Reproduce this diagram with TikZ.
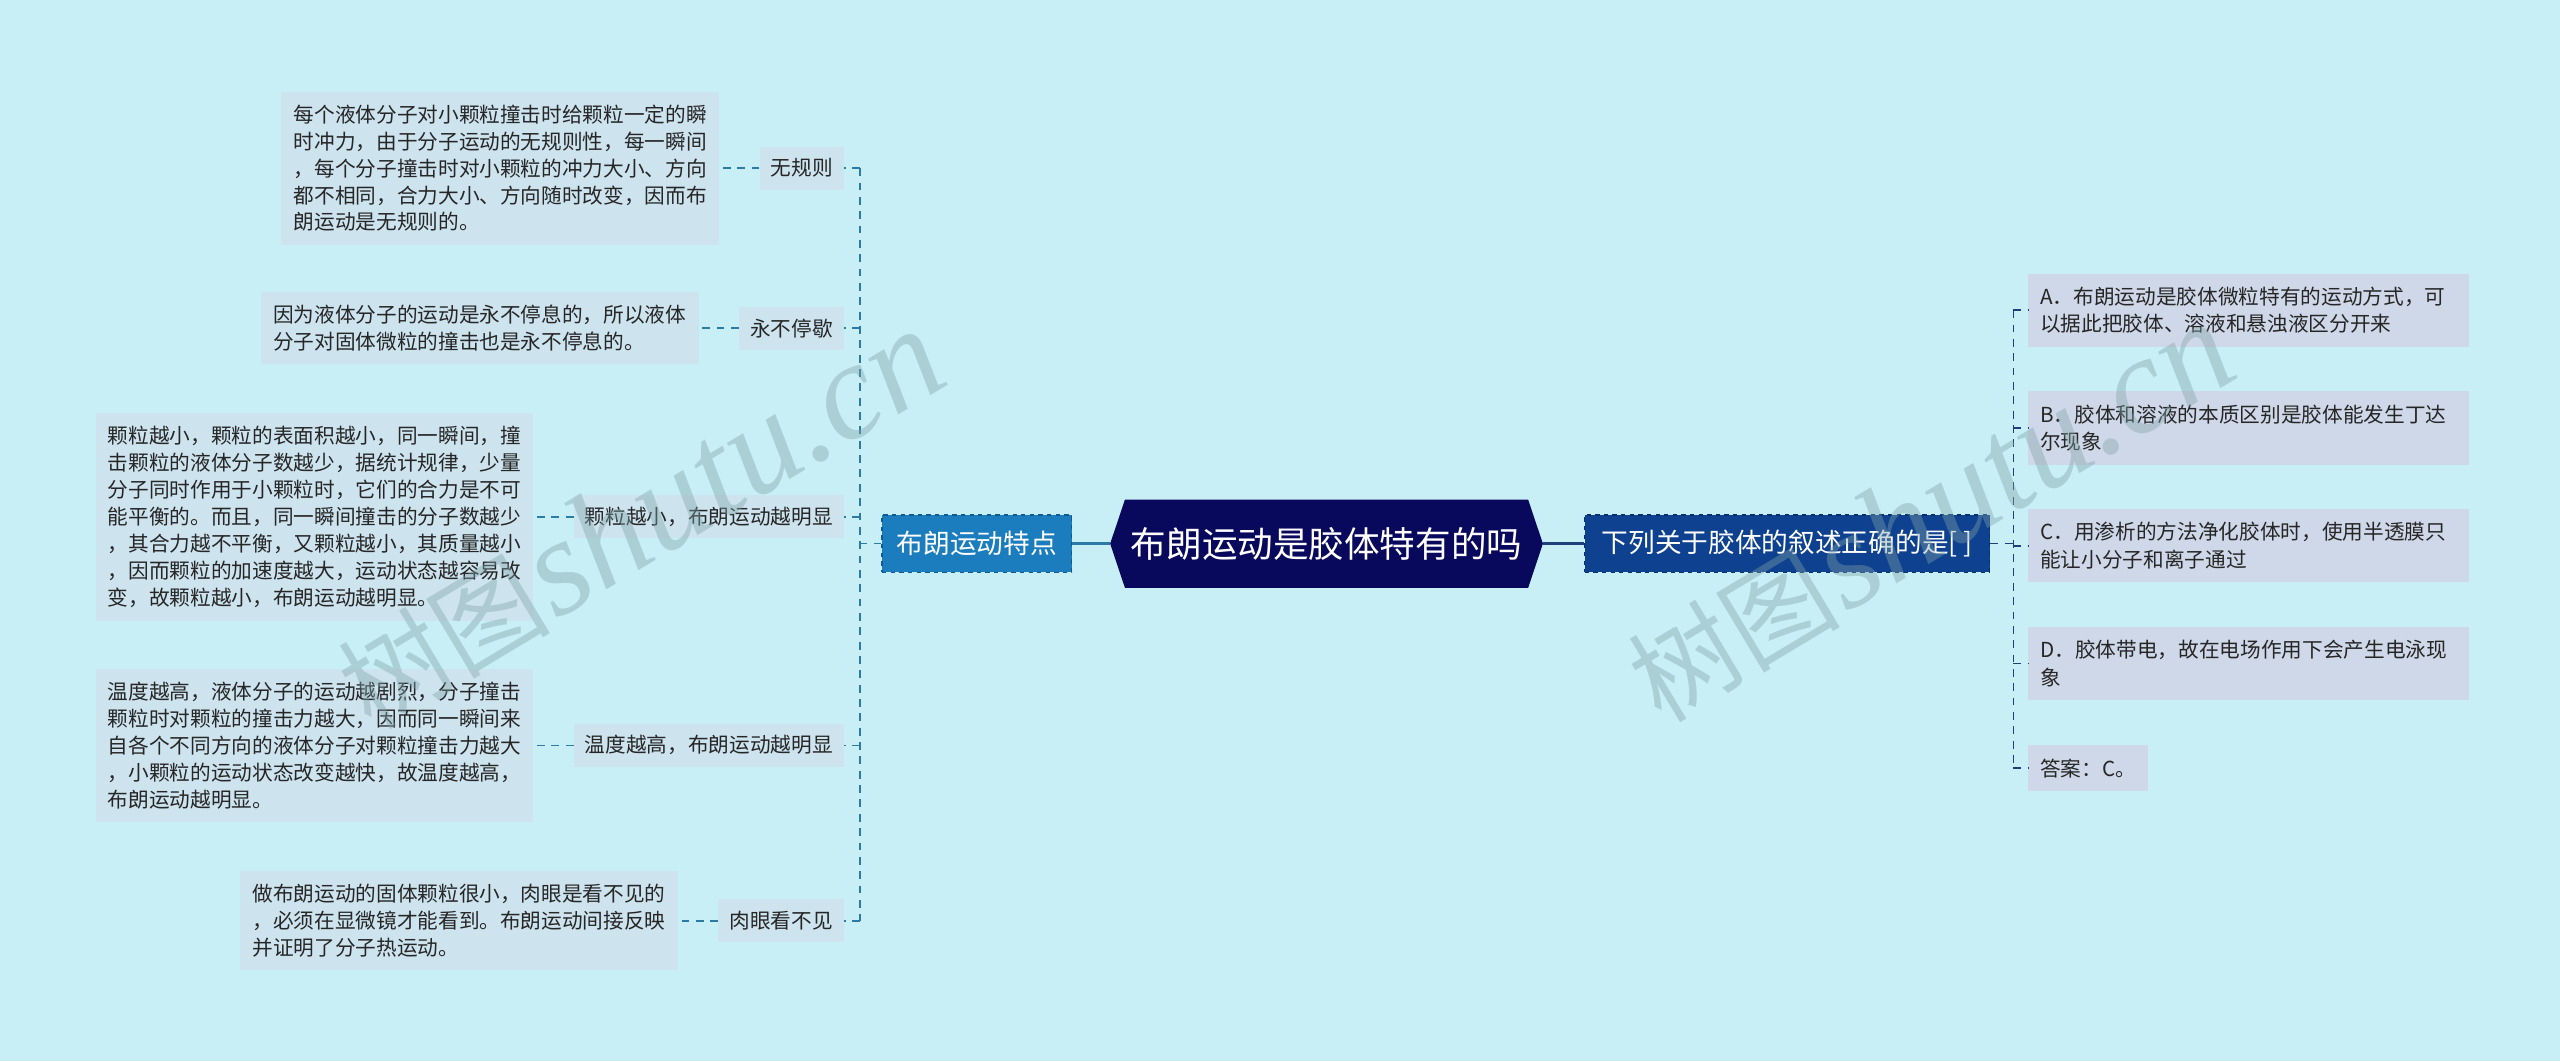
\documentclass[tikz,border=0pt]{standalone}
\usepackage{fontspec}
\setmainfont{Noto Sans CJK SC}
\newfontfamily\wmlatin{Liberation Serif}
\usepackage{tikz}
\usetikzlibrary{positioning, shapes.symbols}

\definecolor{bgcol}{HTML}{C8EEF6}
\definecolor{notefill}{HTML}{CDE3EE}
\definecolor{optfill}{HTML}{CFD8E8}
\definecolor{lmfill}{HTML}{1B7DBD}
\definecolor{lmedge}{HTML}{0E5A92}
\definecolor{rmfill}{HTML}{0E418F}
\definecolor{rmedge}{HTML}{08306E}
\definecolor{rootfill}{HTML}{08095C}
\definecolor{leftline}{HTML}{2B7BA5}
\definecolor{rightline}{HTML}{1D3F7A}
\definecolor{inktext}{HTML}{262626}
\definecolor{wmcol}{HTML}{7FA3A8}

\newcommand\notesize{\fontsize{14.4}{18.8}\selectfont}
\newcommand\optsize{\fontsize{14.4}{19.4}\selectfont}

\begin{document}
\begin{tikzpicture}[x=0.04cm, y=-0.04cm,
    rootbox/.style={signal, signal to=east and west, signal pointer angle=143, fill=rootfill, text=white,
        font=\fontsize{24.8}{30}\selectfont, minimum width=10.6cm, minimum height=2.16cm, inner sep=0pt},
    mainleft/.style={fill=lmfill, draw=lmedge, dashed, line width=1pt, text=white,
        font=\fontsize{18.6}{22}\selectfont, minimum width=4.64cm, minimum height=1.4cm, inner sep=0pt},
    mainright/.style={fill=rmfill, draw=rmedge, dashed, line width=1pt, text=white,
        font=\fontsize{18.6}{22}\selectfont, minimum width=9.92cm, minimum height=1.4cm, inner sep=0pt},
    topicbox/.style={fill=notefill, text=inktext, font=\notesize, minimum height=1.06cm, inner xsep=0.27cm, inner ysep=0pt},
    notebox/.style={fill=notefill, text=inktext, font=\notesize, align=left, inner xsep=0.3cm, inner ysep=0.32cm},
    optionbox/.style={fill=optfill, text=inktext, font=\optsize, align=left, text width=10.2cm, inner xsep=0.3cm, inner ysep=0.32cm},
    answerbox/.style={fill=optfill, text=inktext, font=\optsize, inner xsep=0.3cm, inner ysep=0.32cm},
    leftlink/.style={draw=leftline, line width=1.1pt, dash pattern=on 5.5pt off 4.5pt},
    rightlink/.style={draw=rightline, line width=1.1pt, dash pattern=on 5.5pt off 4.5pt},
    watermark/.style={text=wmcol, opacity=0.4, inner sep=0pt}
]
    \fill[bgcol] (0,0) rectangle (1568,650);
    \useasboundingbox (0,0) rectangle (1568,650);

    \node (root) [rootbox] at (812.5,333) {布朗运动是胶体特有的吗};
    \node (traits) [mainleft, left=0.92cm of root] {布朗运动特点};
    \node (question) [mainright, right=1.0cm of root] {下列关于胶体的叙述正确的是[ ]};

    \draw[leftline, line width=2.2pt] (root.west) -- (traits.east);
    \draw[rightline, line width=2.2pt] (root.east) -- (question.west);

    % left branch
    \node (irregular) [topicbox, anchor=east] at (517,103) {无规则};
    \node (ceaseless) [topicbox, anchor=east] at (517,201) {永不停歇};
    \node (size) [topicbox, anchor=east] at (517,316.5) {颗粒越小，布朗运动越明显};
    \node (temp) [topicbox, anchor=east] at (517,456.5) {温度越高，布朗运动越明显};
    \node (invisible) [topicbox, anchor=east] at (517,564) {肉眼看不见};

    \node (irregular-note) [notebox, left=0.98cm of irregular] {每个液体分子对小颗粒撞击时给颗粒一定的瞬\\时冲力，由于分子运动的无规则性，每一瞬间\\，每个分子撞击时对小颗粒的冲力大小、方向\\都不相同，合力大小、方向随时改变，因而布\\朗运动是无规则的。};
    \node (ceaseless-note) [notebox, left=0.98cm of ceaseless] {因为液体分子的运动是永不停息的，所以液体\\分子对固体微粒的撞击也是永不停息的。};
    \node (size-note) [notebox, left=0.98cm of size] {颗粒越小，颗粒的表面积越小，同一瞬间，撞\\击颗粒的液体分子数越少，据统计规律，少量\\分子同时作用于小颗粒时，它们的合力是不可\\能平衡的。而且，同一瞬间撞击的分子数越少\\，其合力越不平衡，又颗粒越小，其质量越小\\，因而颗粒的加速度越大，运动状态越容易改\\变，故颗粒越小，布朗运动越明显。};
    \node (temp-note) [notebox, left=0.98cm of temp] {温度越高，液体分子的运动越剧烈，分子撞击\\颗粒时对颗粒的撞击力越大，因而同一瞬间来\\自各个不同方向的液体分子对颗粒撞击力越大\\，小颗粒的运动状态改变越快，故温度越高，\\布朗运动越明显。};
    \node (invisible-note) [notebox, left=0.98cm of invisible] {做布朗运动的固体颗粒很小，肉眼是看不见的\\，必须在显微镜才能看到。布朗运动间接反映\\并证明了分子热运动。};

    \draw[leftlink] (traits.west) -- ++(-13,0) coordinate (lbus);
    \draw[leftlink] (lbus |- irregular.east) -- (lbus |- invisible.east);
    \foreach \n in {irregular, ceaseless, size, temp, invisible} {
        \draw[leftlink] (lbus |- \n.east) -- (\n.east);
        \draw[leftlink] (\n.west) -- (\n-note.east);
    }

    % right branch
    \node (optA) [optionbox, anchor=west] at (1242,190) {A．布朗运动是胶体微粒特有的运动方式，可\\以据此把胶体、溶液和悬浊液区分开来};
    \node (optB) [optionbox, below=1.08cm of optA] {B．胶体和溶液的本质区别是胶体能发生丁达\\尔现象};
    \node (optC) [optionbox, below=1.08cm of optB] {C．用渗析的方法净化胶体时，使用半透膜只\\能让小分子和离子通过};
    \node (optD) [optionbox, below=1.08cm of optC] {D．胶体带电，故在电场作用下会产生电泳现\\象};
    \node (answer) [answerbox, below=1.1cm of optD.south west, anchor=north west] {答案：C。};

    \draw[rightlink] (question.east) -- ++(14,0) coordinate (rbus);
    \draw[rightlink] (rbus |- optA.west) -- (rbus |- answer.west);
    \foreach \n in {optA, optB, optC, optD, answer}
        \draw[rightlink] (rbus |- \n.west) -- (\n.west);

    % watermarks
    \node (wmleft) [watermark, rotate=31] at (392,318) {{\fontsize{74}{74}\selectfont 树图} {\wmlatin\itshape\fontsize{96}{96}\selectfont shutu.cn}};
    \node (wmright) [watermark, rotate=31] at (1182,314) {{\fontsize{74}{74}\selectfont 树图} {\wmlatin\itshape\fontsize{96}{96}\selectfont shutu.cn}};
\end{tikzpicture}
\end{document}
